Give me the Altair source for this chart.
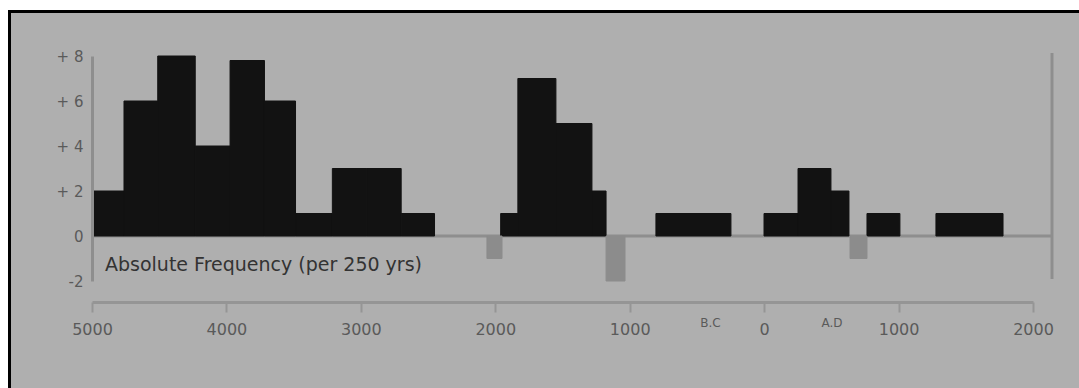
import altair as alt
import pandas as pd

# Histogram bins (years: BC negative, AD positive)
bar_start = [-4993, -4762, -4511, -4232, -3973, -3717, -3486, -3212, -2956, -2700,
             -1960, -1832, -1549, -1281,
             -805, -1, 252, 497, 765, 1278]
bar_end = [-4762, -4511, -4232, -3973, -3717, -3486, -3212, -2956, -2700, -2452,
           -1832, -1549, -1281, -1176,
           -247, 252, 497, 631, 1010, 1777]
bar_count = [2, 6, 8, 4, 7.8, 6, 1, 3, 3, 1,
             1, 7, 5, 2,
             1, 1, 3, 2, 1, 1]

neg_start = [-2062, -1176, 639]
neg_end = [-1950, -1035, 765]
neg_count = [-1, -2, -1]

x_ticks = [-5000, -4000, -3000, -2000, -1000, 0, 1000, 2000]
y_ticks = [-2, 0, 2, 4, 6, 8]

era_labels = ["B.C", "A.D"]
era_pos = [-400, 505]

title_text = "Absolute Frequency (per 250 yrs)"

FONT = "DejaVu Sans"
AX = "#8e8e8e"

bars_df = pd.DataFrame({
    "start": bar_start + neg_start,
    "end": bar_end + neg_end,
    "count": bar_count + neg_count,
    "kind": ["pos"] * len(bar_start) + ["neg"] * len(neg_start),
})
one = pd.DataFrame({"k": [0]})
era_df = pd.DataFrame({"label": era_labels, "pos": era_pos})

x_axis = alt.Axis(values=x_ticks, labelExpr="toString(abs(datum.value))",
                  title=None, offset=21, domainColor="#959595", domainWidth=3,
                  tickColor="#959595", tickWidth=2, tickSize=10, labelPadding=9,
                  labelFlush=False, labelOverlap=False,
                  labelFont=FONT, labelFontSize=16, labelColor="#5a5a5a",
                  grid=False, zindex=1)

frame = alt.Chart(one).mark_rect(fill="#afafaf", stroke="#000000", strokeWidth=3).encode(
    x=alt.value(-82.5), x2=alt.value(1000), y=alt.value(-44.5), y2=alt.value(345)
)

baseline = alt.Chart(one).mark_rule(color=AX, strokeWidth=3).encode(
    y=alt.datum(0), x=alt.value(0), x2=alt.value(960)
)

right_rule = alt.Chart(one).mark_rule(color=AX, strokeWidth=3).encode(
    x=alt.value(960), y=alt.value(-3), y2=alt.value(223)
)

bars = alt.Chart(bars_df).mark_rect(strokeWidth=1).encode(
    x=alt.X("start:Q", scale=alt.Scale(domain=[-5000, 2000], nice=False), axis=x_axis),
    x2="end:Q",
    y=alt.Y("count:Q",
            scale=alt.Scale(domain=[-2, 8], nice=False, zero=False),
            axis=alt.Axis(values=y_ticks,
                          labelExpr="datum.value > 0 ? '+ ' + toString(datum.value) : toString(datum.value)",
                          title=None, domainColor=AX, domainWidth=3, ticks=False,
                          labelPadding=9, labelFont=FONT, labelFontSize=15,
                          labelColor="#5a5a5a", grid=False, zindex=1)),
    y2=alt.datum(0),
    fill=alt.Fill("kind:N", scale=alt.Scale(domain=["pos", "neg"], range=["#121212", "#8c8c8c"]), legend=None),
    stroke=alt.Stroke("kind:N", scale=alt.Scale(domain=["pos", "neg"], range=["#121212", "#8c8c8c"]), legend=None),
)

title = alt.Chart(one).mark_text(
    text=title_text, align="left", baseline="middle", font=FONT, fontSize=19, color="#333333"
).encode(x=alt.value(13), y=alt.value(209))

eras = alt.Chart(era_df).mark_text(
    align="center", baseline="middle", font=FONT, fontSize=12, color="#5a5a5a"
).encode(x=alt.X("pos:Q", axis=x_axis), y=alt.value(267), text="label:N")

chart = alt.layer(frame, baseline, right_rule, bars, title, eras).properties(
    width=941, height=225,
    padding={"left": 92, "top": 56, "right": 46, "bottom": 107},
    autosize=alt.AutoSizeParams(type="none"),
    background="#ffffff",
).configure_view(stroke=None)

chart.save("out.html", embed_options={"renderer": "svg", "actions": False})
